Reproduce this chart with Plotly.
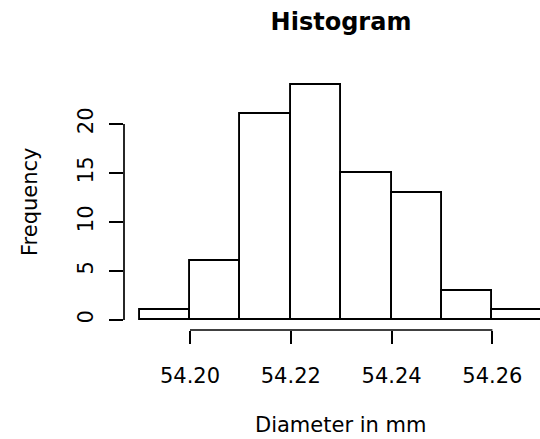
import plotly.graph_objects as go

bin_left = [54.19, 54.20, 54.21, 54.22, 54.23, 54.24, 54.25, 54.26]
counts = [1, 6, 21, 24, 15, 13, 3, 1]
bin_width = 0.01
x_ticks = [54.20, 54.22, 54.24, 54.26]
x_ticktext = ["54.20", "54.22", "54.24", "54.26"]
y_ticks = [0, 5, 10, 15, 20]

centers = [b + bin_width / 2 for b in bin_left]

W, H = 540, 439
L, R, T, B = 124, 0, 60, 109
FONT = "DejaVu Sans"

fig = go.Figure()
fig.add_trace(go.Bar(
    x=centers, y=counts, width=[bin_width] * len(counts),
    marker=dict(color="white", line=dict(color="black", width=1.9)),
    showlegend=False, hoverinfo="skip",
))

# axis ranges chosen so that plot area matches the R layout
px_per_x = 5040.0
px_per_y = 9.8
x0_px = 190  # pixel of 54.20
y0_px = 320  # pixel of 0
xr = [54.20 - (x0_px - L) / px_per_x, 54.20 + (W - R - x0_px) / px_per_x]
yr = [-(H - B - y0_px) / px_per_y, (y0_px - T) / px_per_y]

fig.update_layout(
    width=W, height=H,
    margin=dict(l=L, r=R, t=T, b=B, pad=0),
    paper_bgcolor="white", plot_bgcolor="white",
    font=dict(family=FONT, size=21, color="black"),
    bargap=0,
    title=dict(text="<b>Histogram</b>", x=341 / W, xref="container", xanchor="center",
               y=1 - 22 / H, yref="container", yanchor="middle",
               font=dict(family=FONT, size=24, color="black")),
    xaxis=dict(range=xr, showgrid=False, zeroline=False, showline=False,
               tickvals=x_ticks, ticktext=x_ticktext, ticks="outside", ticklen=13,
               tickwidth=1.7, tickcolor="black", ticklabelstandoff=14,
               tickfont=dict(family=FONT, size=21)),
    yaxis=dict(range=yr, showgrid=False, zeroline=False, showline=False,
               tickvals=y_ticks, ticks="outside", ticklen=14, tickwidth=1.7,
               tickcolor="black", tickangle=-90, ticklabelstandoff=8,
               tickfont=dict(family=FONT, size=21)),
)

# R-style detached axis lines spanning only the tick range
fig.add_shape(type="line", xref="x", yref="paper", x0=x_ticks[0], x1=x_ticks[-1], y0=0, y1=0,
              line=dict(color="black", width=1.7))
fig.add_shape(type="line", xref="paper", yref="y", x0=0, x1=0, y0=y_ticks[0], y1=y_ticks[-1],
              line=dict(color="black", width=1.7))

# axis titles
fig.add_annotation(text="Diameter in mm", xref="paper", yref="paper",
                   x=(340 - L) / (W - L - R), y=(H - B - 425) / (H - B - T),
                   showarrow=False, xanchor="center", yanchor="middle",
                   font=dict(family=FONT, size=21, color="black"))
fig.add_annotation(text="Frequency", xref="paper", yref="paper", textangle=-90,
                   x=(30 - L) / (W - L - R), y=(H - B - 202) / (H - B - T),
                   showarrow=False, xanchor="center", yanchor="middle",
                   font=dict(family=FONT, size=21, color="black"))

fig.write_html("out.html")
